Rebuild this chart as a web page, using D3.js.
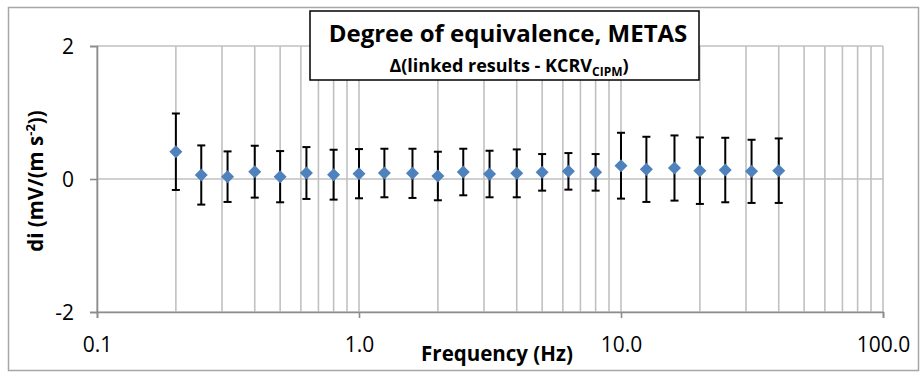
<!DOCTYPE html>
<html>
<head>
<meta charset="utf-8">
<script src="https://cdnjs.cloudflare.com/ajax/libs/d3/7.8.5/d3.min.js"></script>
<style>
body{margin:0;background:#fff;}
svg text{font-family:"Open Sans",sans-serif;fill:#000;}
</style>
</head>
<body>
<svg id="chart" width="920" height="372"></svg>
<script>
// frequency points (Hz)
const freqs = [0.2,0.25,0.315,0.4,0.5,0.63,0.8,1,1.25,1.6,2,2.5,3.15,4,5,6.3,8,10,12.5,16,20,25,31.5,40];
// degree of equivalence di, mV/(m s-2)
const di = [0.41,0.06,0.035,0.11,0.035,0.09,0.065,0.08,0.09,0.085,0.045,0.105,0.075,0.085,0.10,0.115,0.10,0.20,0.145,0.165,0.125,0.135,0.115,0.125];
// expanded uncertainty of di
const Ui = [0.575,0.445,0.38,0.39,0.385,0.39,0.375,0.37,0.365,0.37,0.365,0.35,0.35,0.36,0.275,0.275,0.275,0.495,0.49,0.49,0.50,0.485,0.475,0.485];
const xTicks = [0.1,1,10,100];
const yTicks = [-2,0,2];

const svg = d3.select("#chart");
const pl=97, pr=883, pt=46, pb=312;

// outer chart frame
svg.append("rect").attr("x",8.5).attr("y",7.5).attr("width",910).attr("height",363)
  .attr("fill","#fff").attr("stroke","#a6a6a6").attr("stroke-width",1.5);

const x = d3.scaleLog().domain([0.1,100]).range([pl,pr]);
const y = d3.scaleLinear().domain([-2,2]).range([pb,pt]);

// grid
const grid = svg.append("g").attr("stroke","#c0c0c0").attr("stroke-width",1.6);
grid.selectAll("line.v").data(x.ticks()).join("line").attr("class","v")
  .attr("x1",d=>x(d)).attr("x2",d=>x(d)).attr("y1",pt).attr("y2",pb);
grid.selectAll("line.h").data(yTicks).join("line").attr("class","h")
  .attr("x1",pl).attr("x2",pr).attr("y1",d=>y(d)).attr("y2",d=>y(d));

// axes
const xAxis = svg.append("g").attr("transform","translate(0,"+pb+")")
  .call(d3.axisBottom(x).tickValues(xTicks).tickFormat(d3.format(".1f")).tickSize(6).tickPadding(19));
const yAxis = svg.append("g").attr("transform","translate("+pl+",0)")
  .call(d3.axisLeft(y).tickValues(yTicks).tickFormat(d=>String(d)).tickSize(7).tickPadding(16));
[xAxis,yAxis].forEach(function(a){
  a.select(".domain").attr("stroke","#8c8c8c").attr("stroke-width",1.6);
  a.selectAll(".tick line").attr("stroke","#8c8c8c").attr("stroke-width",1.6);
  a.selectAll(".tick text").attr("font-family","Open Sans").attr("font-size",21).attr("fill","#000");
});
yAxis.selectAll(".tick text").attr("dy","0.36em");

// error bars
const pts = freqs.map((f,i)=>({f:f,v:di[i],u:Ui[i]}));
const eb = svg.append("g").attr("stroke","#000").attr("stroke-width",2);
eb.selectAll("line.bar").data(pts).join("line").attr("class","bar")
  .attr("x1",d=>x(d.f)).attr("x2",d=>x(d.f)).attr("y1",d=>y(d.v+d.u)).attr("y2",d=>y(d.v-d.u));
eb.selectAll("line.capt").data(pts).join("line").attr("class","capt")
  .attr("x1",d=>x(d.f)-4).attr("x2",d=>x(d.f)+4).attr("y1",d=>y(d.v+d.u)).attr("y2",d=>y(d.v+d.u));
eb.selectAll("line.capb").data(pts).join("line").attr("class","capb")
  .attr("x1",d=>x(d.f)-4).attr("x2",d=>x(d.f)+4).attr("y1",d=>y(d.v-d.u)).attr("y2",d=>y(d.v-d.u));

// diamond markers
svg.append("g").selectAll("path").data(pts).join("path")
  .attr("d",d3.symbol(d3.symbolSquare,85))
  .attr("transform",d=>"translate("+x(d.f)+","+y(d.v)+") rotate(45)")
  .attr("fill","#4f81bd");

// axis titles
svg.append("text").attr("x",497).attr("y",361).attr("text-anchor","middle")
  .attr("font-size",20.5).attr("font-weight","bold").text("Frequency (Hz)");
const yl = svg.append("text").attr("transform","translate(43,181) rotate(-90)")
  .attr("text-anchor","middle").attr("font-size",20.5).attr("font-weight","bold");
yl.append("tspan").text("di (mV/(m s");
yl.append("tspan").attr("font-size",13).attr("dy",-8).text("-2");
yl.append("tspan").attr("dy",8).text("))");

// title box
svg.append("rect").attr("x",310).attr("y",11).attr("width",389).attr("height",69)
  .attr("fill","#fff").attr("stroke","#000").attr("stroke-width",1.5);
svg.append("text").attr("x",508).attr("y",42).attr("text-anchor","middle")
  .attr("font-size",24).attr("font-weight","bold").text("Degree of equivalence, METAS");
const st = svg.append("text").attr("x",509).attr("y",72).attr("text-anchor","middle")
  .attr("font-size",18).attr("font-weight","bold");
st.append("tspan").text("\u0394(linked results - KCRV");
st.append("tspan").attr("font-size",12).attr("dy",4).text("CIPM");
st.append("tspan").attr("dy",-4).text(")");
</script>
</body>
</html>
